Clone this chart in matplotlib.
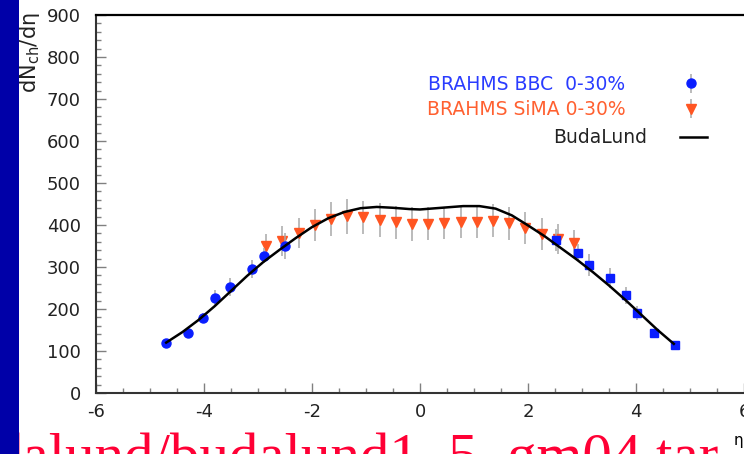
import matplotlib
matplotlib.use("Agg")
import matplotlib.pyplot as plt
from matplotlib.patches import Rectangle
import numpy as np

# BRAHMS BBC 0-30% (negative eta: circles, positive eta: squares)
bbc_neg_eta = [-4.71, -4.30, -4.01, -3.80, -3.51, -3.11, -2.89, -2.50]
bbc_neg_val = [120, 144, 179, 227, 252, 295, 327, 350]
bbc_neg_err = [7, 7, 12, 18, 21, 22, 18, 30]

bbc_pos_eta = [2.52, 2.92, 3.13, 3.52, 3.82, 4.02, 4.33, 4.73]
bbc_pos_val = [364, 334, 305, 273, 233, 191, 142, 115]
bbc_pos_err = [26, 20, 26, 24, 20, 17, 8, 8]

# BRAHMS SiMA 0-30%
sima_eta = [-2.85, -2.55, -2.25, -1.95, -1.65, -1.35, -1.05, -0.75, -0.45, -0.15,
            0.15, 0.45, 0.75, 1.05, 1.35, 1.65, 1.95, 2.25, 2.55, 2.85]
sima_val = [349, 362, 381, 400, 414, 421, 418, 412, 406, 402,
            403, 405, 407, 408, 410, 404, 392, 379, 367, 356]
sima_err = [30, 36, 36, 39, 40, 42, 40, 40, 40, 40,
            39, 38, 39, 40, 39, 40, 38, 38, 36, 32]

# BudaLund curve
bl_eta = [-4.7, -4.4, -4.1, -3.8, -3.5, -3.2, -2.9, -2.6, -2.3, -2.0, -1.7, -1.4,
          -1.1, -0.8, -0.5, -0.2, 0.0, 0.2, 0.5, 0.8, 1.1, 1.4, 1.7, 2.0, 2.3,
          2.6, 2.9, 3.2, 3.5, 3.8, 4.1, 4.4, 4.7]
bl_val = [120, 145, 174, 207, 243, 279, 312, 341, 369, 395, 416, 431,
          440, 443, 441, 438, 437, 439, 442, 445, 445, 439, 423, 399, 374,
          346, 318, 288, 256, 222, 186, 150, 117]

legend_labels = ["BRAHMS BBC  0-30%", "BRAHMS SiMA 0-30%"]

blue = "#0a1eff"
orange = "#ff5522"
bar_gray = "#a8a8a8"

plt.rcParams["font.family"] = ["DejaVu Sans"]
plt.rcParams["axes.unicode_minus"] = False

W, H = 744, 454
fig = plt.figure(figsize=(W / 100, H / 100), dpi=100)
fig.patch.set_facecolor("white")
ax = fig.add_axes([96 / W, 61 / H, 648 / W, 378 / H])

# data
sima = ax.errorbar(sima_eta, sima_val, yerr=sima_err, fmt="v", color=orange,
                   ms=7, mec=orange, ecolor=bar_gray, elinewidth=1.1, capsize=0, zorder=3)
bbc = ax.errorbar(bbc_neg_eta, bbc_neg_val, yerr=bbc_neg_err, fmt="o", color=blue,
                  ms=6.5, mec=blue, ecolor=bar_gray, elinewidth=1.1, capsize=0, zorder=4)
ax.errorbar(bbc_pos_eta, bbc_pos_val, yerr=bbc_pos_err, fmt="s", color=blue,
            ms=6, mec=blue, ecolor=bar_gray, elinewidth=1.1, capsize=0, zorder=4)
line, = ax.plot(bl_eta, bl_val, color="black", lw=1.8, zorder=5)

ax.set_xlim(-6, 6)
ax.set_ylim(0, 900)
ax.set_xticks(np.arange(-6, 7, 2))
ax.set_xticks(np.arange(-6, 6.1, 0.5), minor=True)
ax.set_yticks(np.arange(0, 901, 100))
ax.set_yticks(np.arange(0, 901, 20), minor=True)
ax.tick_params(which="both", direction="in", color="#808080", width=1,
               labelsize=13, labelcolor="#222222", top=False, right=False)
ax.tick_params(which="major", length=7.5)
ax.tick_params(which="minor", length=3.8)
ax.tick_params(axis="y", pad=11)
ax.tick_params(axis="x", pad=7)
for s in ["left", "bottom"]:
    ax.spines[s].set_linewidth(1.5)
    ax.spines[s].set_color("#333333")
ax.spines["top"].set_linewidth(1.6)
ax.spines["right"].set_visible(False)

# legends
leg1 = ax.legend([bbc, sima], legend_labels, loc="center right",
                 bbox_to_anchor=(710 / W, 1 - 97 / H), bbox_transform=fig.transFigure,
                 frameon=False, borderpad=0, borderaxespad=0, markerfirst=False,
                 handlelength=2, handletextpad=2.5, labelspacing=0.35,
                 fontsize=13.5, labelcolor=["#2a3cff", "#ff6030"])
leg2 = ax.legend([line], ["BudaLund"], loc="center right",
                 bbox_to_anchor=(707 / W, 1 - 138 / H), bbox_transform=fig.transFigure,
                 frameon=False, borderpad=0, borderaxespad=0, markerfirst=False,
                 handlelength=1.45, handletextpad=1.75, fontsize=13.5,
                 labelcolor="#222222")
ax.add_artist(leg1)

# axis titles
fig.text(30 / W, 1 - 12 / H, "dN$_{\\rm ch}$/dη", rotation=90, ha="center", va="top",
         fontsize=15, color="#222222")
fig.text(738 / W, 1 - 440 / H, "η", ha="center", va="center", fontsize=11,
         color="black", zorder=7)

# stray red slide caption and blue slide edge
fig.text(-6 / W, 1 - 474 / H, "dalund/budalund1_5_gm04.tar", ha="left", va="baseline",
         fontsize=42.5, family="Liberation Serif", color="#ff0035", zorder=2)
fig.add_artist(Rectangle((0, 0), 19 / W, 1, transform=fig.transFigure,
                         facecolor="#0000a8", edgecolor="none", zorder=5))

fig.savefig("out.png", dpi=100)
